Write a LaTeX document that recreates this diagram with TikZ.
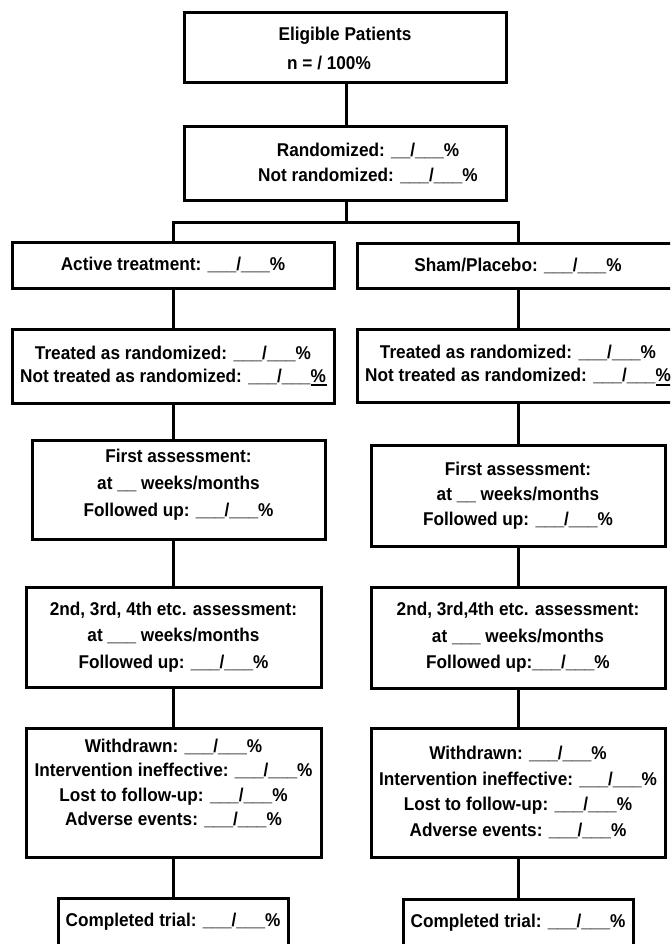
\documentclass[tikz,border=0pt]{standalone}
\usepackage{fontspec}
\setmainfont[FakeStretch=0.93]{Liberation Sans}
\newcommand{\ulpct}{\rlap{\rule[-0.21em]{0.9em}{0.09em}}\%}
\begin{document}
\begin{tikzpicture}[x=1pt,y=-1pt,
  box/.style={draw=black, line width=3pt, inner sep=0pt, align=center, text=black,
    font=\bfseries\fontsize{18.5}{24}\selectfont},
  conn/.style={draw=black, line width=3pt}]
\useasboundingbox (0,0) rectangle (670,944);
\clip (0,0) rectangle (670,944);
\fill[white] (0,0) rectangle (670,944);
% column reference coordinates
\coordinate (cl) at (173,0);
\coordinate (cr) at (518,0);
\coordinate (bus) at (346,222);
% top
\node[box, minimum width=322pt, minimum height=70pt] (elig) at (345,48)
  {Eligible Patients\\[5pt]\hspace*{-32pt}n = / 100\%};
\node[box, minimum width=322pt, minimum height=73pt] (rand) at (345,163.5)
  {\hspace*{46pt}Randomized: \_\_/\_\_\_\%\\[1pt]\hspace*{46pt}Not randomized: \_\_\_/\_\_\_\%};
% arms
\node[box, minimum width=322pt, minimum height=46pt] (act) at (173,265)
  {Active treatment: \_\_\_/\_\_\_\%};
\node[box, minimum width=322pt, minimum height=45pt] (sham) at (518,265.5)
  {Sham/Placebo: \_\_\_/\_\_\_\%};
% treated
\node[box, minimum width=322pt, minimum height=74pt] (treatL) at (173,366)
  {Treated as randomized: \_\_\_/\_\_\_\%\\[-1pt]Not treated as randomized: \_\_\_/\_\_\_\ulpct};
\node[box, minimum width=322pt, minimum height=73pt] (treatR) at (518,365.5)
  {Treated as randomized: \_\_\_/\_\_\_\%\\[-1pt]Not treated as randomized: \_\_\_/\_\_\_\ulpct};
% first assessment
\node[box, minimum width=293pt, minimum height=99pt] (firstL) at (178.5,489.5)
  {First assessment:\\[3pt]at \_\_ weeks/months\\[3pt]Followed up: \_\_\_/\_\_\_\%\\[-10pt]\mbox{}};
\node[box, minimum width=294pt, minimum height=101pt] (firstR) at (518,495.5)
  {First assessment:\\[1pt]at \_\_ weeks/months\\[1pt]Followed up: \_\_\_/\_\_\_\%};
% second assessment
\node[box, minimum width=295pt, minimum height=100pt] (secL) at (173.5,637)
  {2nd, 3rd, 4th etc. assessment:\\[2.5pt]at \_\_\_ weeks/months\\[2.5pt]Followed up: \_\_\_/\_\_\_\%};
\node[box, minimum width=294pt, minimum height=101pt] (secR) at (518,637.5)
  {2nd, 3rd,4th etc. assessment:\\[2.5pt]at \_\_\_ weeks/months\\[2.5pt]Followed up:\_\_\_/\_\_\_\%};
% withdrawals
\node[box, minimum width=295pt, minimum height=129pt] (wdL) at (173.5,792.5)
  {Withdrawn: \_\_\_/\_\_\_\%\\[0.5pt]Intervention ineffective: \_\_\_/\_\_\_\%\\[0.5pt]Lost to follow-up: \_\_\_/\_\_\_\%\\[0.5pt]Adverse events: \_\_\_/\_\_\_\%\\[-4pt]\mbox{}};
\node[box, minimum width=294pt, minimum height=129pt] (wdR) at (518,792.5)
  {Withdrawn: \_\_\_/\_\_\_\%\\[1.5pt]Intervention ineffective: \_\_\_/\_\_\_\%\\[1.5pt]Lost to follow-up: \_\_\_/\_\_\_\%\\[1.5pt]Adverse events: \_\_\_/\_\_\_\%};
% completed
\node[box, minimum width=230pt, minimum height=48pt] (compL) at (173,922)
  {Completed trial: \_\_\_/\_\_\_\%};
\node[box, minimum width=230pt, minimum height=48pt] (compR) at (518,923)
  {Completed trial: \_\_\_/\_\_\_\%};
% connectors
\draw[conn] (elig.south -| bus) -- (rand.north -| bus);
\draw[conn] (rand.south -| bus) -- (bus);
\draw[conn] (act.north) |- (bus) -| (sham.north);
\draw[conn] (act.south) -- (treatL.north);
\draw[conn] (sham.south) -- (treatR.north);
\draw[conn] (treatL.south -| cl) -- (firstL.north -| cl);
\draw[conn] (treatR.south -| cr) -- (firstR.north -| cr);
\draw[conn] (firstL.south -| cl) -- (secL.north -| cl);
\draw[conn] (firstR.south -| cr) -- (secR.north -| cr);
\draw[conn] (secL.south -| cl) -- (wdL.north -| cl);
\draw[conn] (secR.south -| cr) -- (wdR.north -| cr);
\draw[conn] (wdL.south -| cl) -- (compL.north -| cl);
\draw[conn] (wdR.south -| cr) -- (compR.north -| cr);
\end{tikzpicture}
\end{document}
